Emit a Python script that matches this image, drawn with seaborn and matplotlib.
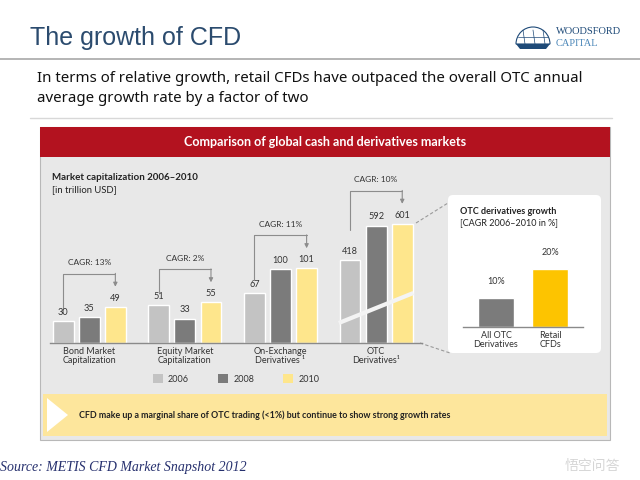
import numpy as np
import pandas as pd
import matplotlib
matplotlib.use('Agg')
import matplotlib.pyplot as plt
import seaborn as sns
from matplotlib.patches import Rectangle, Polygon, FancyBboxPatch, Patch, Wedge

# ---------------- data ----------------
markets = ['Bond Market\nCapitalization', 'Equity Market\nCapitalization',
           'On-Exchange\nDerivatives \u00b9', 'OTC\nDerivatives\u00b9']
years = ['2006', '2008', '2010']
cap_2006 = [30, 51, 67, 418]
cap_2008 = [35, 33, 100, 592]
cap_2010 = [49, 55, 101, 601]
cagr = ['CAGR: 13%', 'CAGR: 2%', 'CAGR: 11%', 'CAGR: 10%']
year_colors = ['#c3c3c3', '#7b7b7b', '#fee68c']

otc_names = ['All OTC\nDerivatives', 'Retail\nCFDs']
otc_growth = [10, 20]
otc_colors = ['#7b7b7b', '#fdc400']

# OTC bars sit on a broken (compressed) axis in the original
otc_squeeze = 0.268

rows = []
for yr, vals in zip(years, [cap_2006, cap_2008, cap_2010]):
    for i, (m, v) in enumerate(zip(markets, vals)):
        shown = v * otc_squeeze if i == 3 else v
        rows.append({'market': m, 'year': yr, 'value': v, 'shown': shown})
df = pd.DataFrame(rows)

# ---------------- figure / background ----------------
sns.set_theme(style='white')
plt.rcParams['font.family'] = ['Lato', 'DejaVu Sans']

fig = plt.figure(figsize=(6.4, 4.8), dpi=100)
fig.patch.set_facecolor('white')

def box(x0, y0, x1, y1):
    # pixel box (top-left origin) -> figure fraction
    return [x0 / 640, 1 - y1 / 480, (x1 - x0) / 640, (y1 - y0) / 480]

bg = fig.add_axes([0, 0, 1, 1])
bg.set_xlim(0, 640)
bg.set_ylim(480, 0)
bg.axis('off')

# header of slide
bg.text(30, 38, 'The growth of CFD', fontsize=18, color='#2b4b6e',
        family='Liberation Sans', va='center')
bg.text(556, 31, 'WOODSFORD', fontsize=7.5, color='#1e4a78',
        family='Liberation Serif', va='center')
bg.text(556, 44, 'CAPITAL', fontsize=7.5, color='#4a86b8',
        family='Liberation Serif', va='center')
bg.add_patch(Wedge((533, 44), 17, 180, 360, fc='none', ec='#1e4a78', lw=0.8))
for xx in [523, 533, 543]:
    bg.plot([xx, xx + 2], [30, 44], color='#1e4a78', lw=0.5)
bg.plot([518, 548], [37, 37], color='#1e4a78', lw=0.5)
bg.add_patch(Polygon([(516, 44), (550, 44), (546, 49), (520, 49)],
                     closed=True, fc='#1e4a78', ec='none'))
bg.plot([0, 640], [59, 59], color='#a8a8a8', lw=1.2)

bg.text(37, 79, 'In terms of relative growth, retail CFDs have outpaced the overall OTC annual',
        fontsize=10.8, color='#111111', family='Noto Sans', va='center')
bg.text(37, 98, 'average growth rate by a factor of two',
        fontsize=10.8, color='#111111', family='Noto Sans', va='center')
bg.plot([30, 612], [118, 118], color='#d8d8d8', lw=1)

# panel
bg.add_patch(Rectangle((40, 127), 570, 313, fc='#e8e8e8', ec='#b8b8b8', lw=0.8))
bg.add_patch(Rectangle((40, 127), 570, 30, fc='#b3121f', ec='none'))
bg.text(325, 142, 'Comparison of global cash and derivatives markets',
        fontsize=9, color='white', weight='bold', ha='center', va='center')

bg.text(52, 178, 'Market capitalization 2006\u20132010', fontsize=7,
        weight='bold', color='#222222', va='center')
bg.text(52, 190, '[in trillion USD]', fontsize=6.8, color='#222222', va='center')

# yellow takeaway box
bg.add_patch(Rectangle((43, 394), 564, 42, fc='#fde69c', ec='none'))
bg.add_patch(Polygon([(47, 398), (47, 432), (68, 415)], closed=True,
                     fc='white', ec='none'))
bg.text(79, 415, 'CFD make up a marginal share of OTC trading (<1%) but continue '
        'to show strong growth rates', fontsize=6.4, weight='bold',
        color='#222222', va='center')

# inset card and connectors
bg.add_patch(FancyBboxPatch((448, 195), 153, 158,
                            boxstyle='round,pad=0,rounding_size=5',
                            fc='white', ec='none'))
bg.plot([416, 448], [223, 203], color='#9a9a9a', lw=0.8, ls=(0, (3, 2)))
bg.plot([420, 450], [343, 353], color='#9a9a9a', lw=0.8, ls=(0, (3, 2)))
bg.text(460, 212, 'OTC derivatives growth', fontsize=6.5, weight='bold',
        color='#222222', va='center')
bg.text(460, 223, '[CAGR 2006\u20132010 in %]', fontsize=6.5,
        color='#222222', va='center')

# footer
bg.text(0, 467, 'Source: METIS CFD Market Snapshot 2012', fontsize=10,
        style='italic', family='Liberation Serif', color='#26306e', va='center')
bg.text(565, 466, '悟空问答', fontsize=10, color='#d6d6d6',
        family=['Noto Sans CJK SC', 'DejaVu Sans'], va='center')

# ---------------- main bar chart ----------------
PX = 0.74  # pixels per value unit

def u(p):
    return p / PX

ax = fig.add_axes(box(50, 180, 422, 343))
ax.set_facecolor('none')
sns.barplot(data=df, x='market', y='shown', hue='year', palette=year_colors,
            width=0.82, gap=0.2, legend=False, ax=ax, saturation=1)
ax.set_xlim(-0.41, 3.48)
ax.set_ylim(0, u(163))
ax.set_xlabel('')
ax.set_ylabel('')
ax.set_yticks([])
for sp in ['top', 'left', 'right']:
    ax.spines[sp].set_visible(False)
ax.spines['bottom'].set_color('#8a8a8a')
ax.spines['bottom'].set_linewidth(1)
ax.tick_params(axis='x', length=0, pad=3, labelsize=6.5, labelcolor='#333333')
for lab in ax.get_xticklabels():
    lab.set_linespacing(1.0)

slot = 0.82 / 3
for i, m in enumerate(markets):
    sub = df[df.market == m]
    shown = sub.shown.values
    vals = sub.value.values
    for k in range(3):
        ax.annotate(str(vals[k]), (i + (k - 1) * slot, shown[k]),
                    xytext=(0, 3), textcoords='offset points', ha='center',
                    va='bottom', fontsize=6.6, color='#333333')
    x0 = i - slot
    x1 = i + slot
    top = shown.max()
    y0 = shown[0] + u(30 if i == 3 else 13)
    yh = top + u(33)
    ye = top + u(20)
    ax.plot([x0, x0, x1], [y0, yh, yh], color='#8c8c8c', lw=0.8)
    ax.annotate('', xy=(x1, ye), xytext=(x1, yh + 0.5),
                arrowprops=dict(arrowstyle='-|>', color='#8c8c8c', lw=0.8,
                                mutation_scale=6, shrinkA=0, shrinkB=0))
    ax.text(i, yh + u(11), cagr[i], ha='center', va='center', fontsize=6,
            color='#333333')

# axis break across the OTC bars
ax.plot([3 - 0.39, 3 + 0.39], [u(20), u(50)], color='#f4f4f4', lw=3,
        solid_capstyle='butt')

fig.legend(handles=[Patch(fc=c, ec='none', label=y) for c, y in zip(year_colors, years)],
           ncol=3, loc='center', bbox_to_anchor=(236 / 640, 1 - 379 / 480),
           frameon=False, fontsize=6.5, handlelength=1.1, handleheight=1.0,
           columnspacing=3.2, handletextpad=0.6, labelcolor='#333333')

# ---------------- inset chart ----------------
ax2 = fig.add_axes(box(463, 247, 583, 327))
ax2.set_facecolor('none')
sns.barplot(x=otc_names, y=otc_growth, hue=otc_names, palette=otc_colors,
            width=0.68, legend=False, ax=ax2, saturation=1)
ax2.set_xlim(-0.61, 1.61)
ax2.set_ylim(0, 80 / 2.9)
ax2.set_yticks([])
for sp in ['top', 'left', 'right']:
    ax2.spines[sp].set_visible(False)
ax2.spines['bottom'].set_color('#8a8a8a')
ax2.spines['bottom'].set_linewidth(1)
ax2.tick_params(axis='x', length=0, pad=3, labelsize=6.5, labelcolor='#333333')
for lab in ax2.get_xticklabels():
    lab.set_linespacing(1.0)
for i, v in enumerate(otc_growth):
    ax2.annotate(f'{v}%', (i, v), xytext=(0, 9), textcoords='offset points',
                 ha='center', va='bottom', fontsize=6.5, color='#333333')

fig.savefig('out.png', dpi=100)
